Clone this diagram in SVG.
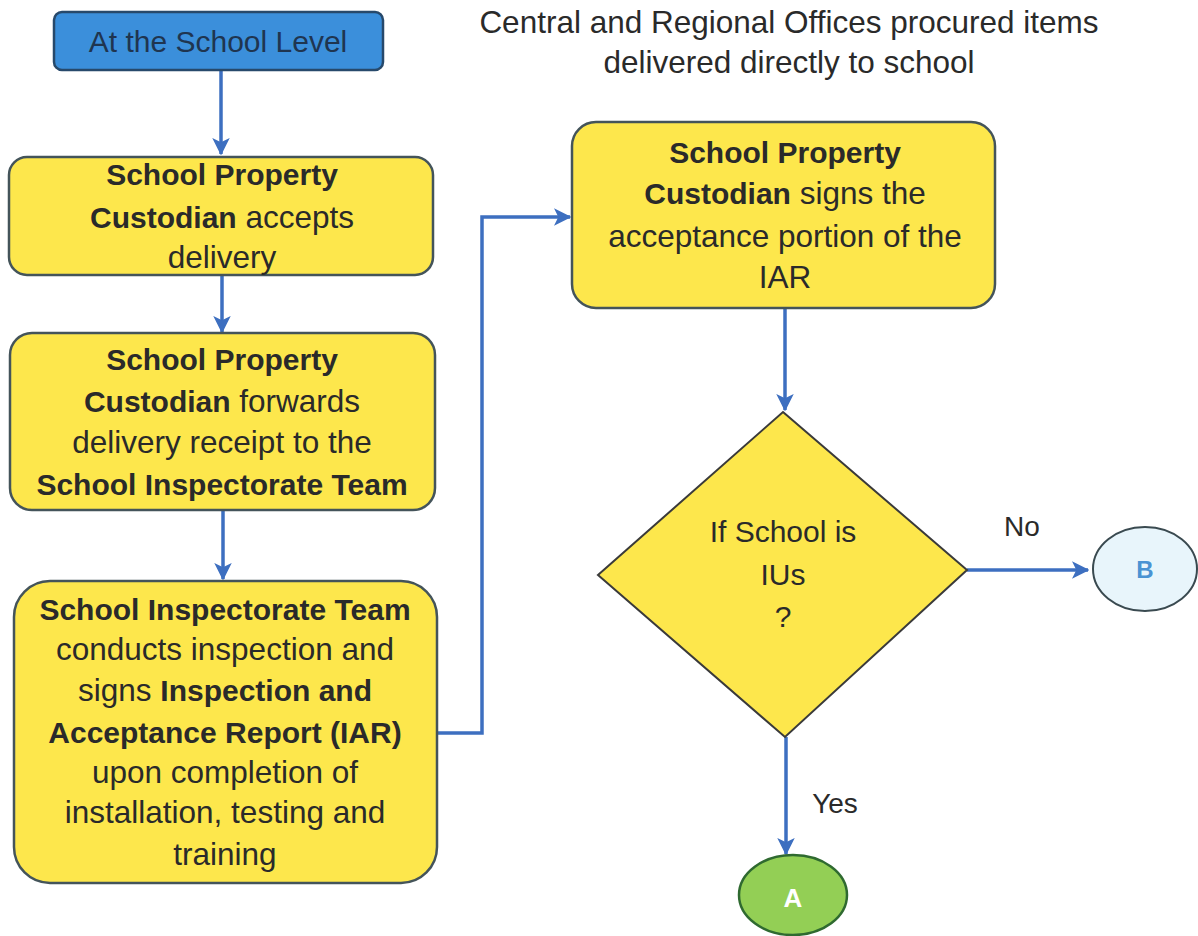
<svg xmlns="http://www.w3.org/2000/svg" width="1198" height="936" viewBox="0 0 1198 936">
<style>
.t{font-family:"Liberation Sans",Arial,sans-serif;font-size:31.5px;fill:#2a2a2a;text-anchor:middle}
.b{font-weight:bold;font-size:30px}
.box{fill:#fde74c;stroke:#44545a;stroke-width:2.5}
.conn{fill:none;stroke:#3d6fc0;stroke-width:3.5}
</style>
<defs>
<marker id="ah" viewBox="0 0 12 12" refX="11" refY="6" markerWidth="5" markerHeight="5" markerUnits="strokeWidth" orient="auto">
<path d="M0,0 L12,6 L0,12 L3,6 Z" fill="#3d6fc0"/>
</marker>
</defs>
<rect width="1198" height="936" fill="#ffffff"/>
<text class="t" x="789" y="33">Central and Regional Offices procured items</text>
<text class="t" x="789" y="73">delivered directly to school</text>
<g id="connectors">
<path class="conn" d="M221,70 V154" marker-end="url(#ah)"/>
<path class="conn" d="M222,275 V332" marker-end="url(#ah)"/>
<path class="conn" d="M223,510 V579" marker-end="url(#ah)"/>
<path class="conn" d="M437,733 H482 V217 H570" marker-end="url(#ah)"/>
<path class="conn" d="M785,308 V410" marker-end="url(#ah)"/>
<path class="conn" d="M967,570 H1088" marker-end="url(#ah)"/>
<path class="conn" d="M786,737 V854" marker-end="url(#ah)"/>
<text class="t" x="1022" y="536" style="font-size:28px">No</text>
<text class="t" x="835" y="813" style="font-size:28px">Yes</text>
</g>
<g id="start">
<rect x="54" y="12" width="329" height="58" rx="8" fill="#3b8fdb" stroke="#27496b" stroke-width="2.5"/>
<text class="t" x="218" y="52" style="font-size:30px;fill:#1f3550">At the School Level</text>
</g>
<g id="accept">
<rect class="box" x="9" y="157" width="424" height="118" rx="18"/>
<text class="t" x="222" y="185"><tspan class="b">School Property</tspan></text>
<text class="t" x="222" y="228"><tspan class="b">Custodian</tspan> accepts</text>
<text class="t" x="222" y="268">delivery</text>
</g>
<g id="forward">
<rect class="box" x="10" y="333" width="425" height="177" rx="22"/>
<text class="t" x="222" y="370"><tspan class="b">School Property</tspan></text>
<text class="t" x="222" y="412"><tspan class="b">Custodian</tspan> forwards</text>
<text class="t" x="222" y="453">delivery receipt to the</text>
<text class="t" x="222" y="495"><tspan class="b">School Inspectorate Team</tspan></text>
</g>
<g id="inspect">
<rect class="box" x="14" y="581" width="423" height="302" rx="36"/>
<text class="t" x="225" y="620"><tspan class="b">School Inspectorate Team</tspan></text>
<text class="t" x="225" y="660">conducts inspection and</text>
<text class="t" x="225" y="701">signs <tspan class="b">Inspection and</tspan></text>
<text class="t" x="225" y="743"><tspan class="b">Acceptance Report (IAR)</tspan></text>
<text class="t" x="225" y="783">upon completion of</text>
<text class="t" x="225" y="823">installation, testing and</text>
<text class="t" x="225" y="865">training</text>
</g>
<g id="sign">
<rect class="box" x="572" y="122" width="423" height="186" rx="24"/>
<text class="t" x="785" y="163"><tspan class="b">School Property</tspan></text>
<text class="t" x="785" y="204"><tspan class="b">Custodian</tspan> signs the</text>
<text class="t" x="785" y="247">acceptance portion of the</text>
<text class="t" x="785" y="288">IAR</text>
</g>
<g id="decision">
<polygon points="783,412 967,570 785,737 598,575" fill="#fde74c" stroke="#3a3a3a" stroke-width="2"/>
<text class="t" x="783" y="542" style="font-size:30px">If School is</text>
<text class="t" x="783" y="585" style="font-size:30px">IUs</text>
<text class="t" x="783" y="627" style="font-size:30px">?</text>
</g>
<g id="B">
<ellipse cx="1145" cy="569" rx="52" ry="42" fill="#e8f5fb" stroke="#3a4a50" stroke-width="2"/>
<text class="t" x="1145" y="578" style="font-size:24px;font-weight:bold;fill:#4a93d3">B</text>
</g>
<g id="A">
<ellipse cx="793" cy="895" rx="54" ry="40" fill="#93cf55" stroke="#2f6a30" stroke-width="2.5"/>
<text class="t" x="793" y="907" style="font-size:26px;font-weight:bold;fill:#ffffff">A</text>
</g>
</svg>
